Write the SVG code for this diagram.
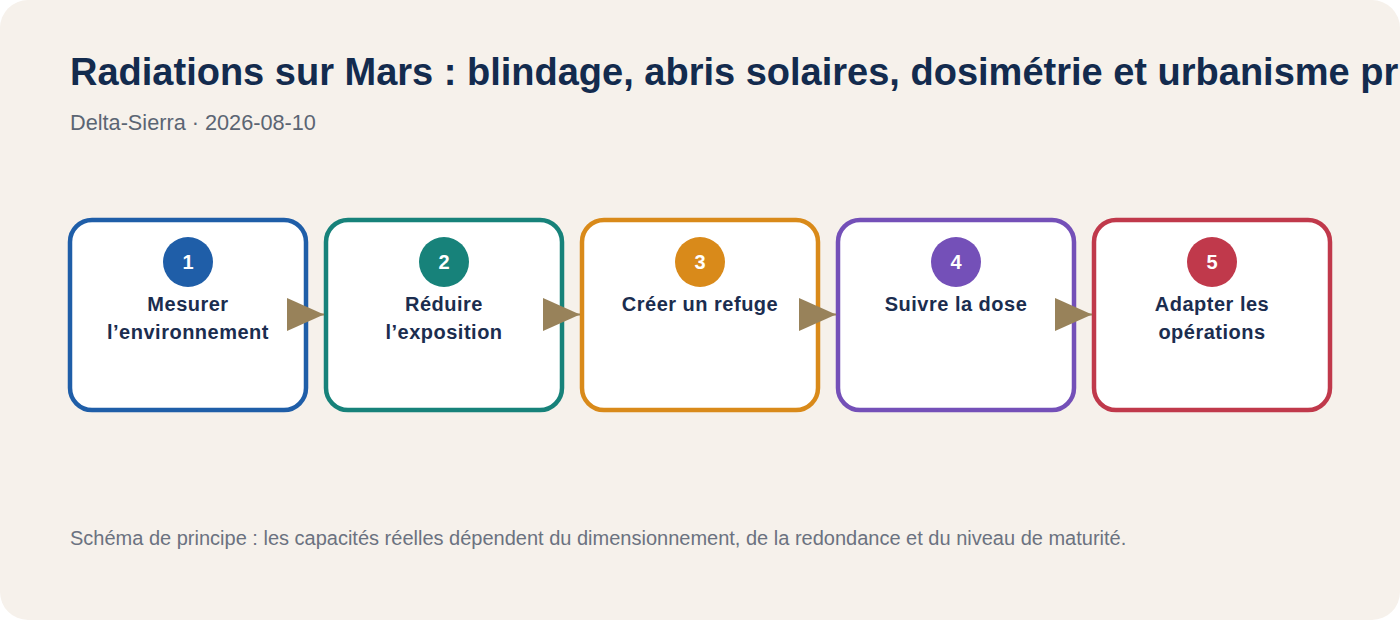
<svg xmlns="http://www.w3.org/2000/svg" width="1400" height="620" viewBox="0 0 1400 620">
  <style>
    .title { font-family: "Liberation Sans", Arial, sans-serif; font-weight: bold; font-size: 38px; fill: #132b4e; }
    .sub { font-family: "Liberation Sans", Arial, sans-serif; font-size: 21.7px; fill: #5b6573; }
    .foot { font-family: "Liberation Sans", Arial, sans-serif; font-size: 20px; fill: #6b7280; }
    .box { fill: #ffffff; stroke-width: 4.5; }
    .num { font-family: "Liberation Sans", Arial, sans-serif; font-weight: bold; font-size: 20px; fill: #ffffff; text-anchor: middle; }
    .lbl { font-family: "Liberation Sans", Arial, sans-serif; font-weight: bold; font-size: 20px; letter-spacing: 0.5px; fill: #1b2d4f; text-anchor: middle; }
    .conn { stroke: #98825a; stroke-width: 2; fill: none; marker-end: url(#arrow); }
  </style>
  <defs>
    <marker id="arrow" markerUnits="userSpaceOnUse" markerWidth="37" markerHeight="34" refX="37" refY="16.5" orient="auto">
      <path d="M0,0 L37,16.5 L0,33 Z" fill="#98825a"/>
    </marker>
  </defs>
  <rect x="0" y="0" width="1400" height="620" rx="28" fill="#f6f1eb"/>
  <text class="title" x="70" y="85">Radiations sur Mars : blindage, abris solaires, dosimétrie et urbanisme pr</text>
  <text class="sub" x="70" y="129.5">Delta-Sierra · 2026-08-10</text>

  <g id="node1">
    <rect class="box" x="70" y="220" width="236" height="190" rx="22" stroke="#1f5ea8"/>
    <circle cx="188" cy="262" r="25" fill="#1f5ea8"/>
    <text class="num" x="188" y="269">1</text>
    <text class="lbl" x="188" y="311">Mesurer</text>
    <text class="lbl" x="188" y="338.5">l’environnement</text>
  </g>
  <g id="node2">
    <rect class="box" x="326" y="220" width="236" height="190" rx="22" stroke="#17827a"/>
    <circle cx="444" cy="262" r="25" fill="#17827a"/>
    <text class="num" x="444" y="269">2</text>
    <text class="lbl" x="444" y="311">Réduire</text>
    <text class="lbl" x="444" y="338.5">l’exposition</text>
  </g>
  <g id="node3">
    <rect class="box" x="582" y="220" width="236" height="190" rx="22" stroke="#d98a1a"/>
    <circle cx="700" cy="262" r="25" fill="#d98a1a"/>
    <text class="num" x="700" y="269">3</text>
    <text class="lbl" x="700" y="311">Créer un refuge</text>
  </g>
  <g id="node4">
    <rect class="box" x="838" y="220" width="236" height="190" rx="22" stroke="#7450b8"/>
    <circle cx="956" cy="262" r="25" fill="#7450b8"/>
    <text class="num" x="956" y="269">4</text>
    <text class="lbl" x="956" y="311">Suivre la dose</text>
  </g>
  <g id="node5">
    <rect class="box" x="1094" y="220" width="236" height="190" rx="22" stroke="#c0394b"/>
    <circle cx="1212" cy="262" r="25" fill="#c0394b"/>
    <text class="num" x="1212" y="269">5</text>
    <text class="lbl" x="1212" y="311">Adapter les</text>
    <text class="lbl" x="1212" y="338.5">opérations</text>
  </g>

  <g id="connectors">
    <path class="conn" d="M288,314.5 L324,314.5"/>
    <path class="conn" d="M544,314.5 L580,314.5"/>
    <path class="conn" d="M800,314.5 L836,314.5"/>
    <path class="conn" d="M1056,314.5 L1092,314.5"/>
  </g>

  <text class="foot" x="70" y="545">Schéma de principe : les capacités réelles dépendent du dimensionnement, de la redondance et du niveau de maturité.</text>
</svg>
